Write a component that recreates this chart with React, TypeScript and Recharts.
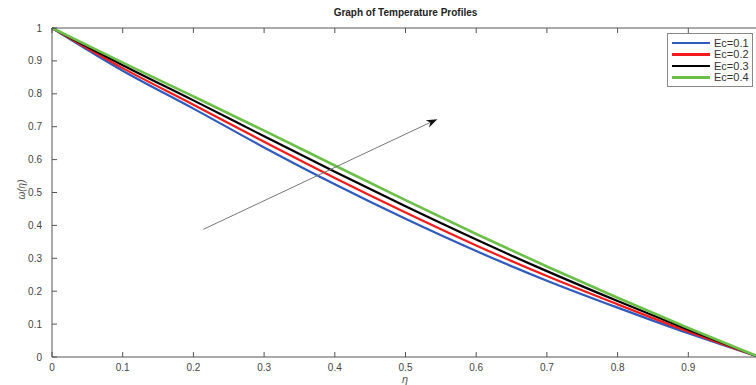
import React from "react";
import { Legend, Line, LineChart, ReferenceLine, XAxis, YAxis } from "recharts";

// ─── Data ────────────────────────────────────────────────────
const ETA = [0, 0.1, 0.2, 0.3, 0.4, 0.5, 0.6, 0.7, 0.8, 0.9, 1];
const EC_01 = [1, 0.870, 0.755, 0.637, 0.525, 0.420, 0.322, 0.232, 0.150, 0.072, 0];
const EC_02 = [1, 0.878, 0.767, 0.654, 0.544, 0.439, 0.339, 0.246, 0.160, 0.077, 0];
const EC_03 = [1, 0.887, 0.780, 0.671, 0.563, 0.458, 0.357, 0.261, 0.170, 0.083, 0];
const EC_04 = [1, 0.895, 0.792, 0.688, 0.582, 0.477, 0.374, 0.275, 0.180, 0.088, 0];
const TICKS = [0, 0.1, 0.2, 0.3, 0.4, 0.5, 0.6, 0.7, 0.8, 0.9, 1];
const SERIES_NAMES = ["Ec=0.1", "Ec=0.2", "Ec=0.3", "Ec=0.4"];
// arrow annotation: start and end in data units
const ARROW_FROM = { x: 0.214, y: 0.388 };
const ARROW_TO = { x: 0.545, y: 0.723 };

const FONT = "'Liberation Sans', Arial, Helvetica, sans-serif";
const TICK_STYLE = { fontSize: 10, fill: "#444", fontFamily: FONT };
const AXIS_COLOR = "#555";
const COLORS = ["#2f5bbf", "#f21c1c", "#000000", "#6cc04a"];

const data = ETA.map((eta, i) => ({
  eta,
  ec1: EC_01[i],
  ec2: EC_02[i],
  ec3: EC_03[i],
  ec4: EC_04[i],
}));

// the x = 1 label falls outside the cropped picture
const xTickLabel = (v: number) => (v === 1 ? "" : String(v));

function Arrow(props: any) {
  const { x1, y1, x2, y2 } = props;
  const a = Math.atan2(y2 - y1, x2 - x1);
  const len = 11;
  const hw = 4;
  const bx = x2 - len * Math.cos(a);
  const by = y2 - len * Math.sin(a);
  const nx = x2 - len * 0.7 * Math.cos(a);
  const ny = y2 - len * 0.7 * Math.sin(a);
  const px = -Math.sin(a) * hw;
  const py = Math.cos(a) * hw;
  return (
    <g>
      <line x1={x1} y1={y1} x2={nx} y2={ny} stroke="#777" strokeWidth={1} />
      <path
        d={`M${x2},${y2} L${bx + px},${by + py} L${nx},${ny} L${bx - px},${by - py} Z`}
        fill="#111"
      />
    </g>
  );
}

function LegendBox({ payload }: any) {
  return (
    <div
      style={{
        border: "1px solid #888",
        background: "#fff",
        padding: "3px 3px 3px 4px",
        fontFamily: FONT,
        fontSize: 11,
        color: "#333",
      }}
    >
      {(payload || []).map((p: any) => (
        <div key={p.value} style={{ display: "flex", alignItems: "center", height: 11.5 }}>
          <span style={{ width: 38, height: 2.5, background: p.color, marginRight: 4, display: "inline-block" }} />
          {p.value}
        </div>
      ))}
    </div>
  );
}

export default function App() {
  return (
    <div
      style={{
        position: "absolute",
        left: 0,
        top: 0,
        width: 756,
        height: 385,
        overflow: "hidden",
        background: "#fff",
      }}
    >
      <div
        style={{
          position: "absolute",
          top: 7,
          left: 0,
          width: 811,
          textAlign: "center",
          fontFamily: FONT,
          fontWeight: "bold",
          fontSize: 10,
          color: "#222",
        }}
      >
        Graph of Temperature Profiles
      </div>
      <div
        style={{
          position: "absolute",
          left: 1,
          top: 184,
          width: 40,
          textAlign: "center",
          transform: "rotate(-90deg)",
          fontFamily: FONT,
          fontStyle: "italic",
          fontSize: 10,
          color: "#555",
        }}
      >
        ω(η)
      </div>
      <div
        style={{
          position: "absolute",
          left: 395,
          top: 373,
          width: 20,
          textAlign: "center",
          fontFamily: FONT,
          fontStyle: "italic",
          fontSize: 11,
          color: "#555",
        }}
      >
        η
      </div>
      <LineChart
        width={770}
        height={385}
        data={data}
        margin={{ top: 27, right: 10, left: 12, bottom: 8 }}
        style={{ position: "absolute", left: 0, top: 0 }}
      >
        <XAxis
          dataKey="eta"
          type="number"
          domain={[0, 1]}
          ticks={TICKS}
          height={20}
          tick={TICK_STYLE}
          tickFormatter={xTickLabel}
          tickSize={-5}
          tickMargin={12}
          stroke={AXIS_COLOR}
          interval={0}
        />
        <XAxis
          xAxisId="top"
          orientation="top"
          dataKey="eta"
          type="number"
          domain={[0, 1]}
          ticks={TICKS}
          height={1}
          tickFormatter={() => ""}
          tickSize={-5}
          stroke={AXIS_COLOR}
          interval={0}
        />
        <YAxis
          type="number"
          domain={[0, 1]}
          ticks={TICKS}
          width={40}
          tick={TICK_STYLE}
          tickSize={-5}
          tickMargin={15}
          stroke={AXIS_COLOR}
          interval={0}
        />
        <YAxis
          yAxisId="right"
          orientation="right"
          type="number"
          domain={[0, 1]}
          ticks={TICKS}
          width={1}
          tickFormatter={() => ""}
          tickSize={-5}
          stroke={AXIS_COLOR}
          interval={0}
        />
        <Legend
          layout="vertical"
          align="center"
          verticalAlign="middle"
          wrapperStyle={{ top: 33, left: 667, width: 86 }}
          content={LegendBox}
        />
        <Line type="monotone" dataKey="ec1" name={SERIES_NAMES[0]} stroke={COLORS[0]} strokeWidth={2.2} dot={false} isAnimationActive={false} />
        <Line type="monotone" dataKey="ec2" name={SERIES_NAMES[1]} stroke={COLORS[1]} strokeWidth={2.2} dot={false} isAnimationActive={false} />
        <Line type="monotone" dataKey="ec3" name={SERIES_NAMES[2]} stroke={COLORS[2]} strokeWidth={2.2} dot={false} isAnimationActive={false} />
        <Line type="monotone" dataKey="ec4" name={SERIES_NAMES[3]} stroke={COLORS[3]} strokeWidth={2.6} dot={false} isAnimationActive={false} />
        <ReferenceLine segment={[ARROW_FROM, ARROW_TO]} shape={Arrow} />
      </LineChart>
    </div>
  );
}
